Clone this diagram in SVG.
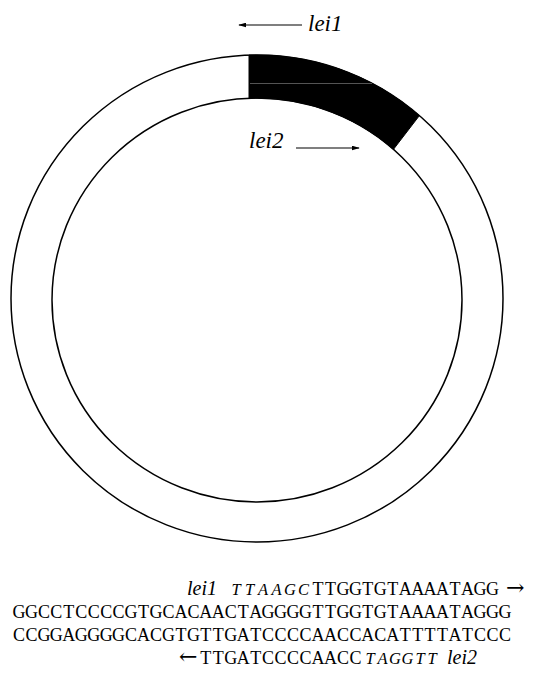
<svg xmlns="http://www.w3.org/2000/svg" width="533" height="680" viewBox="0 0 533 680">
<style>
.ring{fill:none;stroke:#000;stroke-width:1.5}
.lbl{font-family:'Liberation Serif','Times New Roman',Times,'DejaVu Serif',serif;font-style:italic;fill:#000}
.seq{font-family:'Liberation Serif','Times New Roman',Times,'DejaVu Serif',serif;font-size:18px;fill:#000;text-anchor:middle}
.sc{font-family:'Liberation Serif','Times New Roman',Times,'DejaVu Serif',serif;font-size:16.5px;font-style:italic;fill:#000;text-anchor:middle}
.arr{font-family:'DejaVu Serif','DejaVu Sans',serif;font-size:22px;fill:#000}
.conn{stroke:#000;stroke-width:1.2;fill:none}
</style>
<defs>
<marker id="ah" viewBox="0 0 10 6" refX="9" refY="3" markerWidth="8" markerHeight="5" markerUnits="userSpaceOnUse" orient="auto">
<path d="M0,0 L10,3 L0,6 Z" fill="#000"/>
</marker>
</defs>
<rect width="533" height="680" fill="#fff"/>
<g id="plasmid">
<ellipse class="ring" cx="257" cy="298.5" rx="246" ry="243.5"/>
<ellipse class="ring" cx="257" cy="300" rx="205" ry="202"/>
</g>
<g id="lei-region">
<path d="M249,55.1 A246,243.5 0 0 1 419.4,115.6 L393.5,149.3 A205,202 0 0 0 249,98.2 Z" fill="#000" stroke="#000" stroke-width="1"/>
<line x1="250" y1="83.5" x2="372" y2="83.5" stroke="#6a6a6a" stroke-width="0.8"/>
</g>
<g id="connectors">
<line class="conn" x1="302" y1="25" x2="239" y2="25" marker-end="url(#ah)"/>
<line class="conn" x1="296" y1="148" x2="359" y2="148" marker-end="url(#ah)"/>
</g>
<g id="label-lei1">
<text class="lbl" x="308" y="31" font-size="23">lei1</text>
</g>
<g id="label-lei2">
<text class="lbl" x="249" y="148" font-size="23">lei2</text>
</g>
<g id="sequence">
<text class="lbl" x="187" y="595" font-size="20">lei1</text>
<text class="sc" y="595" x="236 249.5 263 276.5 290 303.5">TTAAGC</text>
<text class="seq" y="595" x="318.0 330.4 342.9 355.4 367.8 380.3 392.7 405.2 417.7 430.1 442.6 455.0 467.5 480.0 492.4">TTGGTGTAAAATAGG</text>
<text class="arr" x="506" y="595">→</text>
<text class="seq" y="618" x="18.9 31.4 43.9 56.3 68.8 81.2 93.7 106.2 118.6 131.1 143.5 156.0 168.5 180.9 193.4 205.8 218.3 230.8 243.2 255.7 268.1 280.6 293.1 305.5 318.0 330.4 342.9 355.4 367.8 380.3 392.7 405.2 417.7 430.1 442.6 455.0 467.5 480.0 492.4 504.9">GGCCTCCCCGTGCACAACTAGGGGTTGGTGTAAAATAGGG</text>
<text class="seq" y="641" x="18.9 31.4 43.9 56.3 68.8 81.2 93.7 106.2 118.6 131.1 143.5 156.0 168.5 180.9 193.4 205.8 218.3 230.8 243.2 255.7 268.1 280.6 293.1 305.5 318.0 330.4 342.9 355.4 367.8 380.3 392.7 405.2 417.7 430.1 442.6 455.0 467.5 480.0 492.4 504.9">CCGGAGGGGCACGTGTTGATCCCCAACCACATTTTATCCC</text>
<text class="arr" x="179" y="664">←</text>
<text class="seq" y="664" x="205.8 218.3 230.8 243.2 255.7 268.1 280.6 293.1 305.5 318.0 330.4 342.9 355.4">TTGATCCCCAACC</text>
<text class="sc" y="664" x="370 382.5 395 407.5 420 432">TAGGTT</text>
<text class="lbl" x="447" y="664" font-size="20">lei2</text>
</g>
</svg>
